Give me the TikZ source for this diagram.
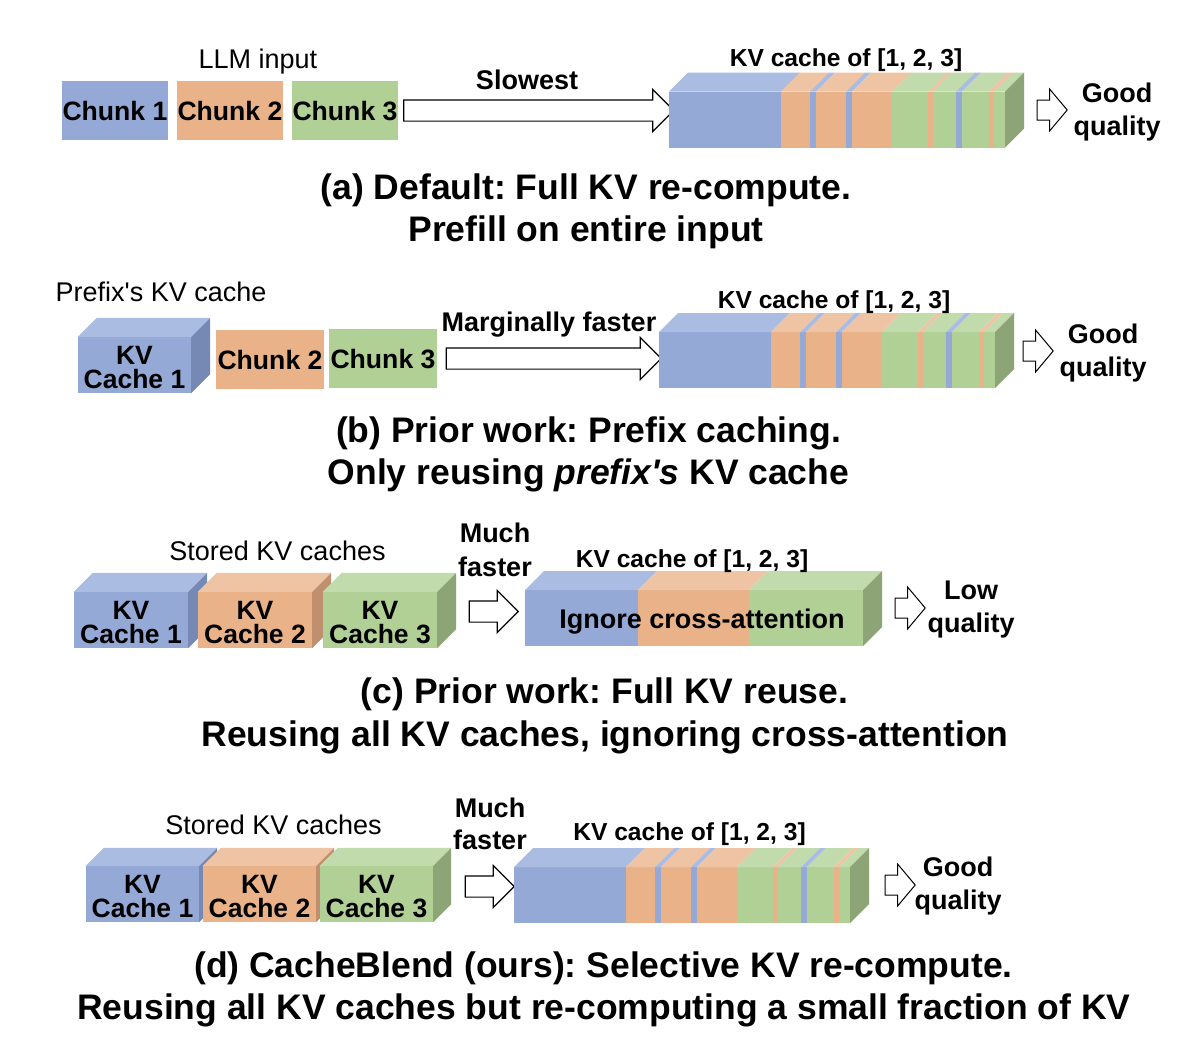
\documentclass[tikz,border=0pt]{standalone}
\usepackage{fontspec}
\setmainfont{Liberation Sans}
\usetikzlibrary{calc,shapes.arrows}
\frenchspacing
\definecolor{Fb}{RGB}{149,169,214}
\definecolor{Tb}{RGB}{170,188,226}
\definecolor{Sb}{RGB}{118,137,180}
\definecolor{Fo}{RGB}{233,178,137}
\definecolor{To}{RGB}{238,196,164}
\definecolor{So}{RGB}{192,144,110}
\definecolor{Fg}{RGB}{176,208,150}
\definecolor{Tg}{RGB}{194,219,172}
\definecolor{Sg}{RGB}{141,165,118}
\newcommand\cubefaces[4]{%
  \fill[#3] (#1.north west) -- ++(#2,-#2) -- ($(#1.north east)+(#2,-#2)$) -- (#1.north east) -- cycle;
  \fill[#4] (#1.north east) -- ++(#2,-#2) -- ($(#1.south east)+(#2,-#2)$) -- (#1.south east) -- cycle;}
\newcommand\stripes[1]{%
  \begin{scope}[shift={(#1.north west)}]
  \foreach \xa/\xb/\cl in {0/112/b,112/141/o,141/147/b,147/177/o,177/183/b,183/223/o,223/259/g,259/264/o,264/287/g,287/293/b,293/320/g,320/325/o,325/336/g}{
    \fill[F\cl] (\xa,0) rectangle (\xb,56);
    \fill[T\cl] (\xa,0) -- (\xb,0) -- (\xb+19,-19) -- (\xa+19,-19) -- cycle;
  }
  \fill[Sg] (336,0) -- (355,-19) -- (355,37) -- (336,56) -- cycle;
  \end{scope}}
\begin{document}
\begin{tikzpicture}[x=1pt,y=-1pt,
  captxt/.style={font=\fontsize{35.5}{42}\selectfont\bfseries, inner sep=0pt, text height=25.4pt, text depth=0pt},
  lab/.style={font=\fontsize{27}{30}\selectfont\bfseries, inner sep=0pt, text height=19.3pt, text depth=0pt},
  reg/.style={font=\fontsize{27}{30}\selectfont, inner sep=0pt, text height=19.3pt, text depth=0pt},
  kvlab/.style={font=\fontsize{24.6}{28}\selectfont\bfseries, inner sep=0pt, text height=17.6pt, text depth=0pt},
  chunk/.style={font=\fontsize{26.6}{30}\selectfont\bfseries, inner sep=0pt, minimum width=106pt, minimum height=59pt, text height=19pt, text depth=0pt},
  cubef/.style={minimum height=56pt, inner sep=0pt},
  cubetxt/.style={font=\fontsize{26.5}{24.5}\selectfont\bfseries, inner sep=0pt, align=center, yshift=-2.5pt},
  blankfront/.style={inner sep=0pt, minimum height=56pt, anchor=north west},
  bigarrow/.style={single arrow, draw=black, line width=1.2pt, fill=white, inner xsep=0pt, inner ysep=10pt, single arrow head extend=10.5pt, single arrow tip angle=90},
  smallarrow/.style={single arrow, draw=black, line width=1pt, fill=white, inner xsep=0pt, inner ysep=9.5pt, single arrow head extend=11pt, single arrow tip angle=100}
]
\fill[white] (0,0) rectangle (1204,1050);
\useasboundingbox (0,0) rectangle (1204,1050);

% ---------------- (a)
\node[reg] (llm) at (258,59) {LLM input};
\node[chunk, fill=Fb] (a1) at (115,110.5) {Chunk 1};
\node[chunk, fill=Fo] (a2) at (230,110.5) {Chunk 2};
\node[chunk, fill=Fg] (a3) at (345,110.5) {Chunk 3};
\node[bigarrow, minimum height=270pt] (aar) at (533.5,110.5) {};
\node[lab] (aslow) at (527,80) {Slowest};
\node[blankfront, minimum width=336pt] (sa) at (669,91.5) {};
\stripes{sa}
\node[kvlab] (akv) at (846,58) {KV cache of [1, 2, 3]};
\node[smallarrow, minimum height=30pt] (aq) at (1048,110) {};
\node[lab] (ag1) at (1117,93) {Good};
\node[lab] (ag2) at (1117,126) {quality};
\node[captxt] (acap1) at (586,187) {(a) Default: Full KV re-compute.};
\node[captxt] (acap2) at (586,229) {Prefill on entire input};

% ---------------- (b)
\node[reg] (pre) at (161,292) {Prefix\textquotesingle s KV cache};
\node[cubef, fill=Fb, minimum width=113pt] (b1) at (134.5,365) {};
\cubefaces{b1}{19}{Tb}{Sb}
\node[cubetxt] (b1t) at (b1) {KV\\Cache 1};
\node[chunk, fill=Fo, minimum width=108pt] (b2) at (270,359.5) {Chunk 2};
\node[chunk, fill=Fg, minimum width=108pt] (b3) at (383,358.5) {Chunk 3};
\node[bigarrow, minimum height=215pt] (bar) at (548.5,358.5) {};
\node[lab] (bfast) at (549,322) {Marginally faster};
\node[blankfront, minimum width=336pt] (sb) at (659,332) {};
\stripes{sb}
\node[kvlab] (bkv) at (834,300) {KV cache of [1, 2, 3]};
\node[smallarrow, minimum height=30pt] (bq) at (1034,351) {};
\node[lab] (bg1) at (1103,334) {Good};
\node[lab] (bg2) at (1103,367) {quality};
\node[captxt] (bcap1) at (588.5,430) {(b) Prior work: Prefix caching.};
\node[captxt] (bcap2) at (588.5,472) {Only reusing \textit{prefix\textquotesingle s} KV cache};

% ---------------- (c)
\node[reg] (cst) at (277.5,551) {Stored KV caches};
\node[cubef, fill=Fb, minimum width=114pt] (c1) at (131,620) {};
\cubefaces{c1}{19}{Tb}{Sb}
\node[cubef, fill=Fo, minimum width=114pt] (c2) at (255,620) {};
\cubefaces{c2}{19}{To}{So}
\node[cubef, fill=Fg, minimum width=114pt] (c3) at (380,620) {};
\cubefaces{c3}{19}{Tg}{Sg}
\node[cubetxt] (c1t) at (c1) {KV\\Cache 1};
\node[cubetxt] (c2t) at (c2) {KV\\Cache 2};
\node[cubetxt] (c3t) at (c3) {KV\\Cache 3};
\node[lab] (cm1) at (495,533) {Much};
\node[lab] (cm2) at (495,567) {faster};
\node[bigarrow, minimum height=49pt] (car) at (488.5,611.5) {};
\node[blankfront, minimum width=338pt] (sc) at (525,590) {};
\begin{scope}[shift={(sc.north west)}]
  \foreach \xa/\xb/\cl in {0/113/b,113/224/o,224/338/g}{
    \fill[F\cl] (\xa,0) rectangle (\xb,56);
    \fill[T\cl] (\xa,0) -- (\xb,0) -- (\xb+19,-19) -- (\xa+19,-19) -- cycle;
  }
  \fill[Sg] (338,0) -- (357,-19) -- (357,37) -- (338,56) -- cycle;
\end{scope}
\node[kvlab] (ckv) at (692,559) {KV cache of [1, 2, 3]};
\node[lab] (cign) at (702,619) {Ignore cross-attention};
\node[smallarrow, minimum height=30pt] (cq) at (906,608) {};
\node[lab] (cl1) at (971,590) {Low};
\node[lab] (cl2) at (971,623) {quality};
\node[captxt] (ccap1) at (604.5,691) {(c) Prior work: Full KV reuse.};
\node[captxt] (ccap2) at (605,734) {Reusing all KV caches, ignoring cross-attention};

% ---------------- (d)
\node[reg] (dst) at (273.5,825) {Stored KV caches};
\node[cubef, fill=Fb, minimum width=113pt] (d1) at (142.5,894) {};
\cubefaces{d1}{18}{Tb}{Sb}
\node[cubef, fill=Fo, minimum width=113pt] (d2) at (259.5,894) {};
\cubefaces{d2}{18}{To}{So}
\node[cubef, fill=Fg, minimum width=113pt] (d3) at (376.5,894) {};
\cubefaces{d3}{18}{Tg}{Sg}
\node[cubetxt] (d1t) at (d1) {KV\\Cache 1};
\node[cubetxt] (d2t) at (d2) {KV\\Cache 2};
\node[cubetxt] (d3t) at (d3) {KV\\Cache 3};
\node[lab] (dm1) at (490,808) {Much};
\node[lab] (dm2) at (490,840) {faster};
\node[bigarrow, minimum height=49pt] (dar) at (484.5,886.5) {};
\node[blankfront, minimum width=336pt] (sd) at (514,867) {};
\stripes{sd}
\node[kvlab] (dkv) at (689.5,832) {KV cache of [1, 2, 3]};
\node[smallarrow, minimum height=30pt] (dq) at (896,885) {};
\node[lab] (dg1) at (958,867) {Good};
\node[lab] (dg2) at (958,900) {quality};
\node[captxt] (dcap1) at (603.5,965) {(d) CacheBlend (ours): Selective KV re-compute.};
\node[captxt] (dcap2) at (604,1007) {Reusing all KV caches but re-computing a small fraction of KV};
\end{tikzpicture}
\end{document}
